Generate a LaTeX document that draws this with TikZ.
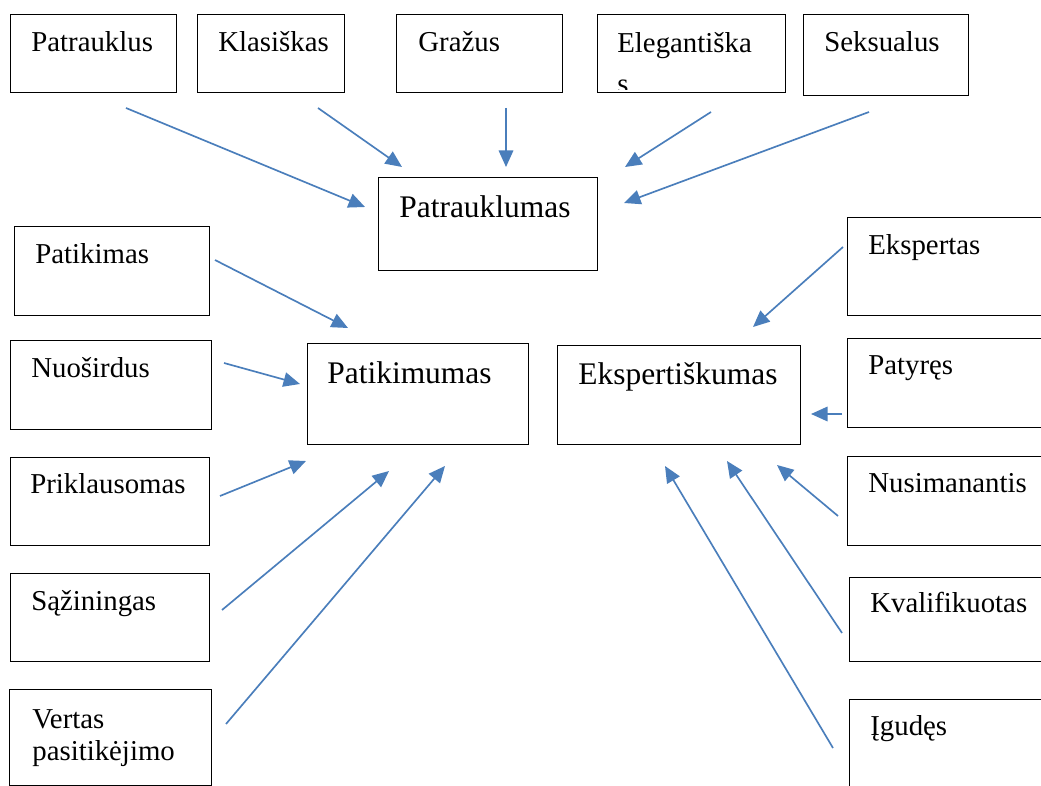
\documentclass[tikz,border=0pt]{standalone}
\usepackage{fontspec}
\setmainfont{Liberation Serif}
\usetikzlibrary{arrows.meta}
\definecolor{wordblue}{HTML}{4A7EBB}
\tikzset{
  box/.style={draw, line width=0.8pt, anchor=north west, inner sep=0pt, minimum height=1.78cm},
  lbl/.style={anchor=base west, inner sep=0pt, font=\fontsize{16.4}{19}\selectfont},
  biglbl/.style={anchor=base west, inner sep=0pt, font=\fontsize{17.9}{21}\selectfont},
  arr/.style={draw=wordblue, line width=0.95pt, -{Triangle[length=3.3mm,width=2.9mm]}}
}
\begin{document}
\begin{tikzpicture}[x=0.02cm, y=-0.02cm]

\clip (0,0) rectangle (1041,786);

\node[box, minimum width=3.32cm, minimum height=1.56cm] (patrauklus) at (10,14) {};
\node[box, minimum width=2.94cm, minimum height=1.56cm] (klasiskas) at (197,14) {};
\node[box, minimum width=3.32cm, minimum height=1.56cm] (grazus) at (396,14) {};
\node[box, minimum width=3.76cm, minimum height=1.56cm] (elegantiska) at (597,14) {};
\node[box, minimum width=3.30cm, minimum height=1.62cm] (seksualus) at (803,14) {};
\node[box, minimum width=4.38cm, minimum height=1.86cm] (patrauklumas) at (378,177) {};

\node[box, minimum width=3.90cm] (patikimas) at (14,226) {};
\node[box, minimum width=4.02cm] (nuosirdus) at (10,340) {};
\node[box, minimum width=3.98cm, minimum height=1.76cm] (priklausomas) at (10,457) {};
\node[box, minimum width=3.98cm, minimum height=1.76cm] (saziningas) at (10,573) {};
\node[box, minimum width=4.04cm, minimum height=1.92cm] (vertas) at (9,689) {};
\node[box, minimum width=4.42cm, minimum height=2.02cm] (patikimumas) at (307,343) {};

\node[box, minimum width=4.86cm, minimum height=1.98cm] (ekspertiskumas) at (557,345) {};
\node[box, minimum width=4.5cm, minimum height=1.96cm] (ekspertas) at (847,217) {};
\node[box, minimum width=4.5cm] (patyres) at (847,338) {};
\node[box, minimum width=4.5cm] (nusimanantis) at (847,456) {};
\node[box, minimum width=4.5cm, minimum height=1.68cm] (kvalifikuotas) at (849,577) {};
\node[box, minimum width=4.5cm, minimum height=2.2cm] (igudes) at (849,699) {};

\node[lbl] (patrauklus-t) at ([shift={(21,38)}]patrauklus.north west) {Patrauklus};
\node[lbl] (klasiskas-t) at ([shift={(21,38)}]klasiskas.north west) {Klasiškas};
\node[lbl] (grazus-t) at ([shift={(22,38)}]grazus.north west) {Gražus};
\node[lbl] (elegantiska-t) at ([shift={(20,39)}]elegantiska.north west) {Elegantiška};
\begin{scope}
\clip (elegantiska.north west) rectangle ([shift={(0,-4)}]elegantiska.south east);
\node[lbl] (elegantiska-s) at ([shift={(20,80)}]elegantiska.north west) {s};
\end{scope}
\node[lbl] (seksualus-t) at ([shift={(21,38)}]seksualus.north west) {Seksualus};
\node[biglbl] (patrauklumas-t) at ([shift={(21,41)}]patrauklumas.north west) {Patrauklumas};

\node[lbl] (patikimas-t) at ([shift={(21,38)}]patikimas.north west) {Patikimas};
\node[lbl] (nuosirdus-t) at ([shift={(21,38)}]nuosirdus.north west) {Nuoširdus};
\node[lbl] (priklausomas-t) at ([shift={(20,37)}]priklausomas.north west) {Priklausomas};
\node[lbl] (saziningas-t) at ([shift={(21,38)}]saziningas.north west) {Sąžiningas};
\node[lbl] (vertas-t) at ([shift={(23,39)}]vertas.north west) {Vertas};
\node[lbl] (vertas-t2) at ([shift={(23,71)}]vertas.north west) {pasitikėjimo};
\node[biglbl] (patikimumas-t) at ([shift={(20,41)}]patikimumas.north west) {Patikimumas};

\node[biglbl] (ekspertiskumas-t) at ([shift={(21,40)}]ekspertiskumas.north west) {Ekspertiškumas};
\node[lbl] (ekspertas-t) at ([shift={(21,38)}]ekspertas.north west) {Ekspertas};
\node[lbl] (patyres-t) at ([shift={(21,37)}]patyres.north west) {Patyręs};
\node[lbl] (nusimanantis-t) at ([shift={(21,37)}]nusimanantis.north west) {Nusimanantis};
\node[lbl] (kvalifikuotas-t) at ([shift={(21,36)}]kvalifikuotas.north west) {Kvalifikuotas};
\node[lbl] (igudes-t) at ([shift={(21,36)}]igudes.north west) {Įgudęs};

\coordinate (patrauklus-o) at (126,108);
\coordinate (klasiskas-o) at (318,108);
\coordinate (grazus-o) at (506,108);
\coordinate (elegantiska-o) at (711,112);
\coordinate (seksualus-o) at (869,112);
\coordinate (patikimas-o) at (215,260);
\coordinate (nuosirdus-o) at (224,363);
\coordinate (priklausomas-o) at (220,496);
\coordinate (saziningas-o) at (222,610);
\coordinate (vertas-o) at (226,724);
\coordinate (ekspertas-o) at (843,247);
\coordinate (patyres-o) at (842,414);
\coordinate (nusimanantis-o) at (838,516);
\coordinate (kvalifikuotas-o) at (842,633);
\coordinate (igudes-o) at (833,748);

\coordinate (patrauklumas-i1) at (365,207);
\coordinate (patrauklumas-i2) at (402,167);
\coordinate (patrauklumas-i3) at (506,167);
\coordinate (patrauklumas-i4) at (625,167);
\coordinate (patrauklumas-i5) at (624,203);
\coordinate (patikimumas-i1) at (348,328);
\coordinate (patikimumas-i2) at (300,384);
\coordinate (patikimumas-i3) at (306,461);
\coordinate (patikimumas-i4) at (389,471);
\coordinate (patikimumas-i5) at (445,466);
\coordinate (ekspertiskumas-i1) at (753,327);
\coordinate (ekspertiskumas-i2) at (811,414);
\coordinate (ekspertiskumas-i3) at (777,465);
\coordinate (ekspertiskumas-i4) at (727,461);
\coordinate (ekspertiskumas-i5) at (665,466);

\draw[arr] (patrauklus-o) -- (patrauklumas-i1);
\draw[arr] (klasiskas-o) -- (patrauklumas-i2);
\draw[arr] (grazus-o) -- (patrauklumas-i3);
\draw[arr] (elegantiska-o) -- (patrauklumas-i4);
\draw[arr] (seksualus-o) -- (patrauklumas-i5);
\draw[arr] (patikimas-o) -- (patikimumas-i1);
\draw[arr] (nuosirdus-o) -- (patikimumas-i2);
\draw[arr] (priklausomas-o) -- (patikimumas-i3);
\draw[arr] (saziningas-o) -- (patikimumas-i4);
\draw[arr] (vertas-o) -- (patikimumas-i5);
\draw[arr] (ekspertas-o) -- (ekspertiskumas-i1);
\draw[arr] (patyres-o) -- (ekspertiskumas-i2);
\draw[arr] (nusimanantis-o) -- (ekspertiskumas-i3);
\draw[arr] (kvalifikuotas-o) -- (ekspertiskumas-i4);
\draw[arr] (igudes-o) -- (ekspertiskumas-i5);

\end{tikzpicture}
\end{document}
